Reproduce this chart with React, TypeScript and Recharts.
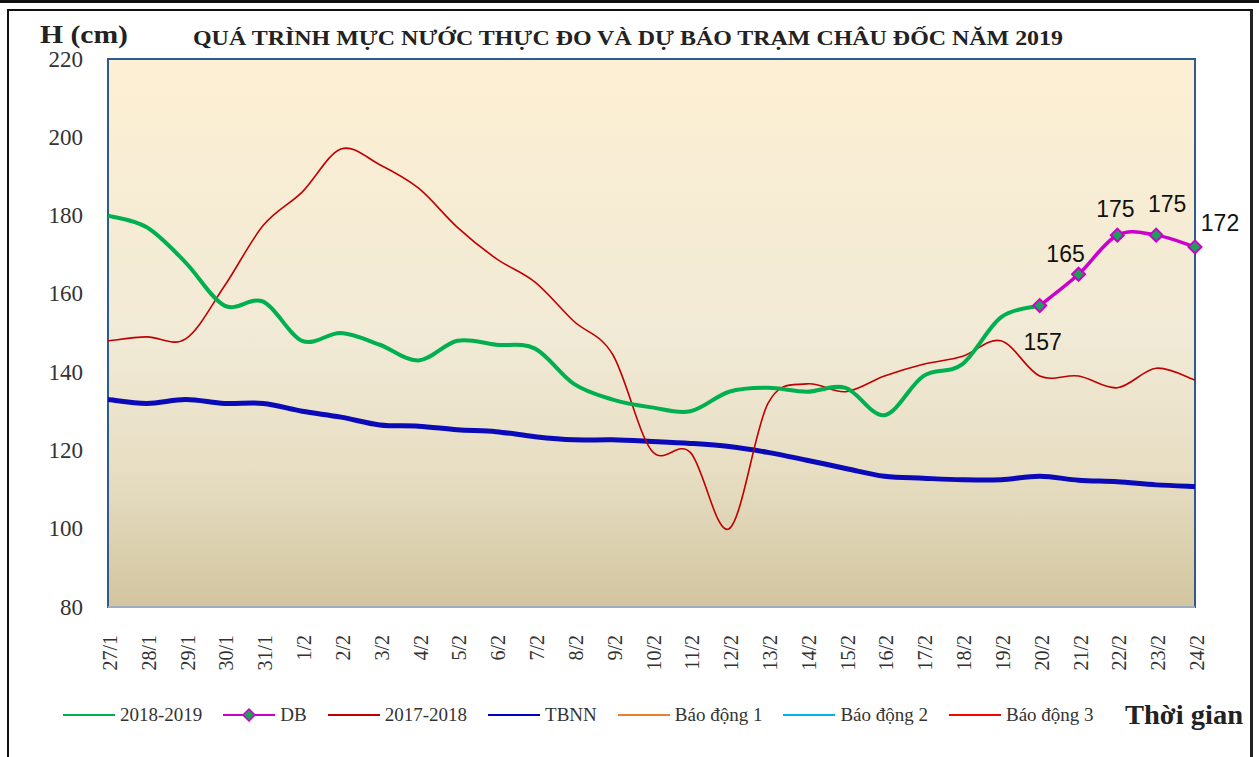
import React from 'react';
import { LineChart, Line, XAxis, YAxis, ReferenceArea, LabelList } from 'recharts';

const categories = ['27/1','28/1','29/1','30/1','31/1','1/2','2/2','3/2','4/2','5/2','6/2','7/2','8/2','9/2','10/2','11/2','12/2','13/2','14/2','15/2','16/2','17/2','18/2','19/2','20/2','21/2','22/2','23/2','24/2'];

const s20182019: (number | null)[] = [180,177,168,157,158,148,150,147,143,148,147,146,137,133,131,130,135,136,135,136,129,139,142,154,157,null,null,null,null];
const sDB: (number | null)[] = [null,null,null,null,null,null,null,null,null,null,null,null,null,null,null,null,null,null,null,null,null,null,null,null,157,165,175,175,172];
const s20172018: number[] = [148,149,148.5,162,177.5,186,197,193,187,177,169,163,153,144.5,120,119.5,100,132,137,135,139,142,144,148,139,139,136,141,138];
const sTBNN: number[] = [133,132,133,132,132,130,128.5,126.5,126.2,125.3,124.8,123.5,122.7,122.7,122.3,121.8,121,119.5,117.5,115.4,113.4,112.9,112.5,112.5,113.4,112.4,112,111.2,110.8];

const yTicks = [80,100,120,140,160,180,200,220];

const rows = categories.map((d, i) => ({
  date: d,
  s1819: s20182019[i],
  db: sDB[i],
  s1718: s20172018[i],
  tbnn: sTBNN[i],
}));

const SERIF = '"Liberation Serif", "Times New Roman", serif';
const SANS = '"Liberation Sans", Arial, sans-serif';

// Excel-like smoothed curve (Catmull-Rom via cubic Bezier)
const excelCurve: any = (context: any) => {
  let pts: number[][] = [];
  return {
    areaStart() {},
    areaEnd() {},
    lineStart() { pts = []; },
    point(x: number, y: number) { pts.push([+x, +y]); },
    lineEnd() {
      const n = pts.length;
      if (!n) return;
      context.moveTo(pts[0][0], pts[0][1]);
      if (n === 1) { context.lineTo(pts[0][0], pts[0][1]); return; }
      for (let i = 0; i < n - 1; i++) {
        const p0 = pts[Math.max(i - 1, 0)];
        const p1 = pts[i];
        const p2 = pts[i + 1];
        const p3 = pts[Math.min(i + 2, n - 1)];
        context.bezierCurveTo(
          p1[0] + (p2[0] - p0[0]) / 6, p1[1] + (p2[1] - p0[1]) / 6,
          p2[0] - (p3[0] - p1[0]) / 6, p2[1] - (p3[1] - p1[1]) / 6,
          p2[0], p2[1]
        );
      }
    },
  };
};

const XTick = (props: any) => {
  const { x, y, payload } = props;
  const ty = y + 26;
  const tx = x + 2;
  return (
    <text x={tx} y={ty} transform={`rotate(-90 ${tx} ${ty})`} textAnchor="end" dominantBaseline="central"
      fontFamily={SERIF} fontSize={20} fill="#333">
      {payload.value}
    </text>
  );
};

const YTick = (props: any) => {
  const { y, payload } = props;
  return (
    <text x={83} y={y} textAnchor="end" dominantBaseline="central" fontFamily={SERIF} fontSize={23} fill="#333">
      {payload.value}
    </text>
  );
};

const Diamond = (props: any) => {
  const { cx, cy, value } = props;
  if (value == null || cx == null || cy == null) return null;
  const r = 6.5;
  return (
    <polygon points={`${cx},${cy - r} ${cx + r},${cy} ${cx},${cy + r} ${cx - r},${cy}`}
      fill="#1E9E58" stroke="#CC00CC" strokeWidth={2} />
  );
};

const dbLabelOffset: Record<string, [number, number]> = {
  '20/2': [3, 36],
  '21/2': [-13, -20],
  '22/2': [-2, -26],
  '23/2': [11, -31],
  '24/2': [25, -24],
};

const DbLabel = (props: any) => {
  const { x, y, value, index } = props;
  if (value == null) return null;
  const off = dbLabelOffset[categories[index]] || [0, -20];
  return (
    <text x={x + off[0]} y={y + off[1]} textAnchor="middle" dominantBaseline="central"
      fontFamily={SANS} fontSize={23} fill="#111">
      {value}
    </text>
  );
};

const legendItems = [
  { name: '2018-2019', color: '#00B050', marker: false },
  { name: 'DB', color: '#CC00CC', marker: true },
  { name: '2017-2018', color: '#C00000', marker: false },
  { name: 'TBNN', color: '#0000C0', marker: false },
  { name: 'Báo động 1', color: '#ED7D31', marker: false },
  { name: 'Báo động 2', color: '#00B0F0', marker: false },
  { name: 'Báo động 3', color: '#FF0000', marker: false },
];

export default function App() {
  return (
    <div style={{ position: 'absolute', left: 0, top: 0, width: 1259, height: 757, background: '#fff', overflow: 'hidden' }}>
      <svg width={0} height={0} style={{ position: 'absolute' }}>
        <defs>
          <linearGradient id="plotBg" x1="0" y1="0" x2="0" y2="1">
            <stop offset="0" stopColor="#FDEFD3" />
            <stop offset="0.5" stopColor="#F1EAD6" />
            <stop offset="0.75" stopColor="#E7DEC3" />
            <stop offset="1" stopColor="#D2C59F" />
          </linearGradient>
        </defs>
      </svg>
      <div style={{ position: 'absolute', left: 0, top: 0, width: 1259, height: 3, background: '#111' }} />
      <div style={{ position: 'absolute', left: 7, top: 9, width: 1241, height: 800, borderLeft: '2px solid #111', borderTop: '2px solid #111', borderRight: '3px solid #222' }} />
      <div style={{ position: 'absolute', left: 0, top: 0 }}>
        <LineChart width={1259} height={757} data={rows} margin={{ top: 59, right: 64, bottom: 90, left: 48 }}>
          <XAxis dataKey="date" height={60} interval={0} tickLine={false} tickSize={0}
            axisLine={{ stroke: '#9DAEC4', strokeWidth: 2 }} tick={<XTick />} />
          <YAxis domain={[80, 220]} ticks={yTicks} width={60} axisLine={false} tickLine={false} tick={<YTick />} />
          <ReferenceArea x1="27/1" x2="24/2" y1={80} y2={220} fill="url(#plotBg)" fillOpacity={1}
            stroke="#2E5A8E" strokeWidth={2} />
          <Line dataKey="tbnn" type={excelCurve} stroke="#0A0AB8" strokeWidth={5} dot={false} isAnimationActive={false} />
          <Line dataKey="s1718" type={excelCurve} stroke="#C00000" strokeWidth={1.6} dot={false} isAnimationActive={false} />
          <Line dataKey="s1819" type={excelCurve} stroke="#00B050" strokeWidth={4} dot={false} isAnimationActive={false} />
          <Line dataKey="db" type={excelCurve} stroke="#CC00CC" strokeWidth={3.5} dot={<Diamond />} isAnimationActive={false}>
            <LabelList dataKey="db" content={<DbLabel />} />
          </Line>
        </LineChart>
      </div>
      <svg width={1259} height={757} style={{ position: 'absolute', left: 0, top: 0, pointerEvents: 'none' }}>
        <text x={40} y={43} fontFamily={SERIF} fontSize={25} fontWeight="bold" fill="#222" textLength={88} lengthAdjust="spacingAndGlyphs">H (cm)</text>
        <text x={193} y={45} fontFamily={SERIF} fontSize={22} fontWeight="bold" fill="#222" textLength={870} lengthAdjust="spacingAndGlyphs">QUÁ TRÌNH MỰC NƯỚC THỰC ĐO VÀ DỰ BÁO TRẠM CHÂU ĐỐC NĂM 2019</text>
        <text x={1125} y={724} fontFamily={SERIF} fontSize={27} fontWeight="bold" fill="#222" textLength={118} lengthAdjust="spacingAndGlyphs">Thời gian</text>
      </svg>
      <div style={{ position: 'absolute', left: 63, top: 703, height: 24, display: 'flex', alignItems: 'center', fontFamily: SERIF, fontSize: 19, color: '#333' }}>
        {legendItems.map((it) => (
          <div key={it.name} style={{ display: 'flex', alignItems: 'center', marginRight: 21 }}>
            <svg width={52} height={14} style={{ marginRight: 5 }}>
              <line x1={0} y1={7} x2={52} y2={7} stroke={it.color} strokeWidth={2} />
              {it.marker && <polygon points="26,1 32,7 26,13 20,7" fill="#1E9E58" stroke="#CC00CC" strokeWidth={1.5} />}
            </svg>
            <span>{it.name}</span>
          </div>
        ))}
      </div>
    </div>
  );
}
